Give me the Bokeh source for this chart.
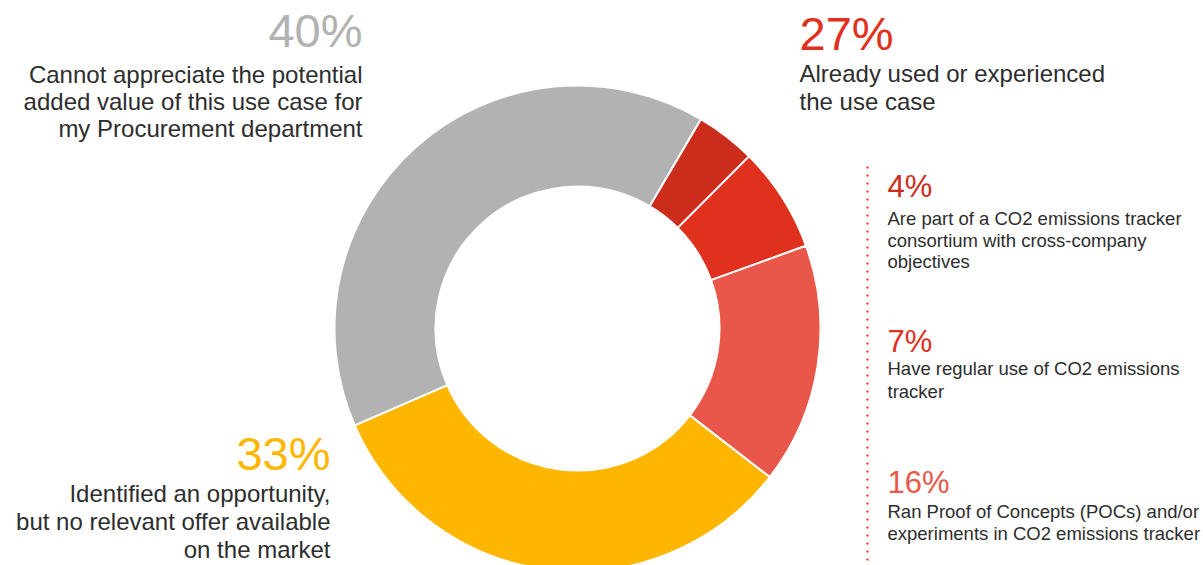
import numpy as np
from bokeh.plotting import figure
from bokeh.models import Range1d, ColumnDataSource
from bokeh.core.properties import value
from bokeh.embed import file_html
from bokeh.resources import INLINE

# ---- data ----
segments = ["Consortium", "Regular use", "POCs", "Opportunity, no offer", "Cannot appreciate"]
shares = [4, 7, 16, 33, 40]
seg_colors = ["#CB2C1C", "#E0301E", "#E8574A", "#FFB600", "#B2B2B2"]

main_pcts = ["40%", "27%", "33%"]
main_pct_colors = ["#B2B2B2", "#E0301E", "#FFB600"]
label_40 = ["Cannot appreciate the potential", "added value of this use case for", "my Procurement department"]
label_27 = ["Already used or experienced", "the use case"]
label_33 = ["Identified an opportunity,", "but no relevant offer available", "on the market"]

sub_pcts = ["4%", "7%", "16%"]
sub_pct_colors = ["#CB2C1C", "#E0301E", "#E8574A"]
label_4 = ["Are part of a CO2 emissions tracker", "consortium with cross-company", "objectives"]
label_7 = ["Have regular use of CO2 emissions", "tracker"]
label_16 = ["Ran Proof of Concepts (POCs) and/or", "experiments in CO2 emissions tracker"]

W, H = 1203, 565
def Y(py):
    return H - py

p = figure(width=W, height=H, output_backend="svg", toolbar_location=None,
           x_range=Range1d(0, W), y_range=Range1d(0, H),
           min_border=0)
p.axis.visible = False
p.grid.visible = False
p.outline_line_color = None
p.background_fill_color = "white"
p.border_fill_color = "white"

# donut
start_deg = 90 - 30.5
cum = np.concatenate([[0], np.cumsum(shares)])
starts = np.deg2rad(start_deg - cum[:-1] * 3.6)
ends = np.deg2rad(start_deg - cum[1:] * 3.6)
src = ColumnDataSource(dict(start=starts, end=ends, color=seg_colors, name=segments))
p.annular_wedge(x=577, y=Y(328), inner_radius=142, outer_radius=243,
                inner_radius_units="screen", outer_radius_units="screen",
                start_angle="start", end_angle="end", direction="clock",
                fill_color="color", line_color="white", line_width=2, source=src)

FONT = value("Liberation Sans")
TXT = "#2D2D2D"

def lines(xs, ys, texts, size, color, align):
    off = 0.37 * size
    p.text(x=xs, y=[Y(v - off) for v in ys], text=texts, text_font=FONT,
           text_font_size=value(f"{size}px"), text_color=color, text_align=align,
           text_baseline="alphabetic")

# big percents
lines([362], [47], [main_pcts[0]], 47, main_pct_colors[0], "right")
lines([799], [50], [main_pcts[1]], 47, main_pct_colors[1], "left")
lines([330], [470], [main_pcts[2]], 47, main_pct_colors[2], "right")

lines([362] * 3, [83, 110, 137], label_40, 24, TXT, "right")
lines([799] * 2, [82, 110], label_27, 24, TXT, "left")
lines([330] * 3, [502, 530, 558], label_33, 24, TXT, "right")

# sub percents
lines([887], [197], [sub_pcts[0]], 31, sub_pct_colors[0], "left")
lines([887], [352], [sub_pcts[1]], 31, sub_pct_colors[1], "left")
lines([887], [493], [sub_pcts[2]], 31, sub_pct_colors[2], "left")
lines([887] * 3, [225, 247, 268], label_4, 18.5, TXT, "left")
lines([887] * 2, [375, 398], label_7, 18.5, TXT, "left")
lines([887] * 2, [518, 540], label_16, 18.5, TXT, "left")

# dotted separator
p.line(x=[867, 867], y=[Y(166), Y(563)], line_color="#E0301E", line_width=2, line_dash="2 6")

open("out.html", "w").write(file_html(p, INLINE))
